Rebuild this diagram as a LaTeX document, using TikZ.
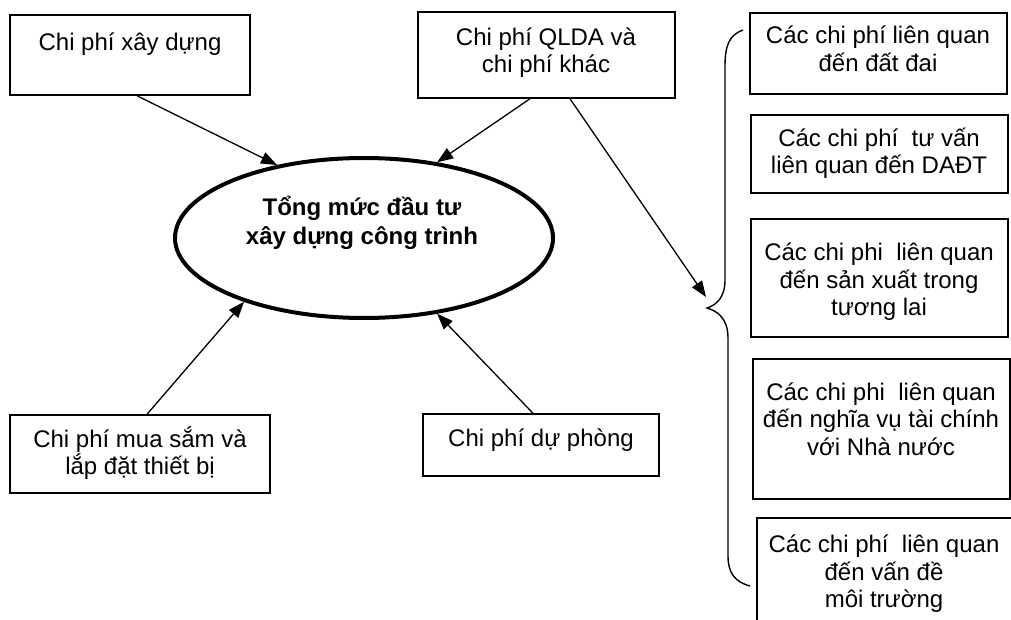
\documentclass[tikz,border=0pt]{standalone}
\usepackage{fontspec}
\setmainfont{Liberation Sans}
\usetikzlibrary{arrows.meta,calc,shapes.geometric}
\begin{document}
\begin{tikzpicture}[x=1pt,y=-1pt,
  box/.style={draw,line width=1.5pt,rectangle,inner sep=0pt},
  lbl/.style={align=center,font=\fontsize{24}{27.5}\selectfont,inner sep=0pt},
  link/.style={line width=1.3pt,-{Triangle[length=16pt,width=12pt]}},
]
\useasboundingbox (0,0) rectangle (1011,620);
\clip (0,0) rectangle (1011,620);

% central ellipse
\node[ellipse,draw,line width=4pt,minimum width=378pt,minimum height=160pt,inner sep=0pt] (ell) at (364,238) {};
\node[lbl,font=\fontsize{24}{29}\selectfont\bfseries] (ellt) at (362,223) {Tổng mức đầu tư\\xây dựng công trình};

% cost component boxes
\node[box,minimum width=240pt,minimum height=80pt] (xd) at (130,55) {};
\node[lbl] (xdt) at (130,44) {Chi phí xây dựng};

\node[box,minimum width=257pt,minimum height=86pt] (ql) at (546.5,55) {};
\node[lbl] (qlt) at (546,52.5) {Chi phí QLDA và\\chi phí khác};

\node[box,minimum width=260pt,minimum height=78pt] (ms) at (140,454) {};
\node[lbl] (mst) at (140,453) {Chi phí mua sắm và\\lắp đặt thiết bị};

\node[box,minimum width=236pt,minimum height=62pt] (dp) at (541,445) {};
\node[lbl] (dpt) at (541,440) {Chi phí dự phòng};

% other costs column
\node[box,minimum width=257pt,minimum height=81pt] (r1) at (878.5,53.5) {};
\node[lbl] (r1t) at (878,49) {Các chi phí liên quan\\đến đất đai};

\node[box,minimum width=257pt,minimum height=78pt] (r2) at (879.5,154) {};
\node[lbl] (r2t) at (879,153.5) {Các chi phí~ tư vấn\\liên quan đến DAĐT};

\node[box,minimum width=257pt,minimum height=118pt] (r3) at (879.5,278) {};
\node[lbl] (r3t) at (879,282) {Các chi phi~ liên quan\\đến sản xuất trong\\tương lai};

\node[box,minimum width=257pt,minimum height=140pt] (r4) at (881.5,429) {};
\node[lbl] (r4t) at (881,419) {Các chi phi~ liên quan\\đến nghĩa vụ tài chính\\với Nhà nước};

\node[box,minimum width=256pt,minimum height=130pt] (r5) at (885,583) {};
\node[lbl] (r5t) at (884,574) {Các chi phí~ liên quan\\đến vấn đề\\môi trường};

% brace grouping the column
\coordinate (brtip) at (707,308);
\draw[line width=1.4pt] (743,30) .. controls (729,35) and (725,46) .. (725,66)
  -- (725,280) .. controls (725,298) and (716,305) .. (brtip)
  .. controls (717,311) and (728,318) .. (728,338)
  -- (728,556) .. controls (728,573) and (735,582) .. (750,586);
\coordinate (qend) at ($(brtip)+(-1,-11)$);

% connectors
\draw[link] ($(xd.south)+(7,0)$) -- (ell.140);
\draw[link] ($(ql.south)+(-16.5,0)$) -- (ell.46);
\draw[link] ($(ms.north)+(7,0)$) -- (ell.208);
\draw[link] ($(dp.north)+(-8,0)$) -- (ell.314);
\draw[link] ($(ql.south)+(23.5,0)$) -- (qend);
\end{tikzpicture}
\end{document}
